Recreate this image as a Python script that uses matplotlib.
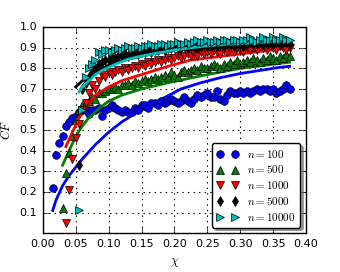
import matplotlib
matplotlib.use("Agg")
import matplotlib.pyplot as plt

plt.style.use("classic")
plt.rcParams["font.size"] = 8
plt.rcParams["mathtext.fontset"] = "cm"

x_100 = [0.015, 0.020, 0.025, 0.030, 0.035, 0.040, 0.045, 0.050, 0.055, 0.060,
         0.065, 0.070, 0.075, 0.080, 0.085, 0.090, 0.095, 0.100, 0.105, 0.110,
         0.115, 0.120, 0.125, 0.130, 0.135, 0.140, 0.145, 0.150, 0.155, 0.160,
         0.165, 0.170, 0.175, 0.180, 0.185, 0.190, 0.195, 0.200, 0.205, 0.210,
         0.215, 0.220, 0.225, 0.230, 0.235, 0.240, 0.245, 0.250, 0.255, 0.260,
         0.265, 0.270, 0.275, 0.280, 0.285, 0.290, 0.295, 0.300, 0.305, 0.310,
         0.315, 0.320, 0.325, 0.330, 0.335, 0.340, 0.345, 0.350, 0.355, 0.360,
         0.365, 0.370, 0.375]
y_100 = [0.22, 0.38, 0.44, 0.47, 0.52, 0.54, 0.56, 0.57, 0.59, 0.60,
         0.60, 0.58, 0.60, 0.60, 0.61, 0.57, 0.60, 0.61, 0.62, 0.61,
         0.60, 0.59, 0.60, 0.59, 0.59, 0.61, 0.60, 0.62, 0.62, 0.61,
         0.63, 0.63, 0.62, 0.64, 0.63, 0.64, 0.65, 0.64, 0.63, 0.64,
         0.66, 0.64, 0.63, 0.65, 0.67, 0.66, 0.67, 0.68, 0.66, 0.66,
         0.69, 0.65, 0.64, 0.67, 0.69, 0.68, 0.68, 0.69, 0.68, 0.69,
         0.68, 0.69, 0.70, 0.69, 0.70, 0.70, 0.69, 0.70, 0.68, 0.69,
         0.70, 0.72, 0.70]

x_500 = [0.030, 0.035, 0.040, 0.045, 0.050, 0.055, 0.060,
         0.065, 0.070, 0.075, 0.080, 0.085, 0.090, 0.095, 0.100, 0.105, 0.110,
         0.115, 0.120, 0.125, 0.130, 0.135, 0.140, 0.145, 0.150, 0.155, 0.160,
         0.165, 0.170, 0.175, 0.180, 0.185, 0.190, 0.195, 0.200, 0.205, 0.210,
         0.215, 0.220, 0.225, 0.230, 0.235, 0.240, 0.245, 0.250, 0.255, 0.260,
         0.265, 0.270, 0.275, 0.280, 0.285, 0.290, 0.295, 0.300, 0.305, 0.310,
         0.315, 0.320, 0.325, 0.330, 0.335, 0.340, 0.345, 0.350, 0.355, 0.360,
         0.365, 0.370, 0.375]
y_500 = [0.12, 0.29, 0.39, 0.47, 0.55, 0.60, 0.62,
         0.63, 0.64, 0.66, 0.65, 0.68, 0.68, 0.69, 0.70, 0.70, 0.71,
         0.70, 0.72, 0.72, 0.73, 0.72, 0.74, 0.73, 0.74, 0.75, 0.74,
         0.75, 0.76, 0.75, 0.76, 0.77, 0.76, 0.78, 0.77, 0.76, 0.78,
         0.79, 0.78, 0.79, 0.80, 0.79, 0.81, 0.80, 0.80, 0.81, 0.82,
         0.81, 0.80, 0.82, 0.81, 0.83, 0.82, 0.84, 0.82, 0.83, 0.84,
         0.83, 0.85, 0.84, 0.83, 0.85, 0.84, 0.86, 0.85, 0.84, 0.86,
         0.85, 0.87, 0.86]

x_1000 = [0.035, 0.040, 0.045, 0.050, 0.055, 0.060,
          0.065, 0.070, 0.075, 0.080, 0.085, 0.090, 0.095, 0.100, 0.105, 0.110,
          0.115, 0.120, 0.125, 0.130, 0.135, 0.140, 0.145, 0.150, 0.155, 0.160,
          0.165, 0.170, 0.175, 0.180, 0.185, 0.190, 0.195, 0.200, 0.205, 0.210,
          0.215, 0.220, 0.225, 0.230, 0.235, 0.240, 0.245, 0.250, 0.255, 0.260,
          0.265, 0.270, 0.275, 0.280, 0.285, 0.290, 0.295, 0.300, 0.305, 0.310,
          0.315, 0.320, 0.325, 0.330, 0.335, 0.340, 0.345, 0.350, 0.355, 0.360,
          0.365, 0.370, 0.375]
y_1000 = [0.05, 0.21, 0.36, 0.46, 0.53, 0.60,
          0.63, 0.68, 0.72, 0.70, 0.74, 0.77, 0.76, 0.78, 0.77, 0.78,
          0.79, 0.78, 0.80, 0.79, 0.80, 0.81, 0.80, 0.82, 0.81, 0.83,
          0.82, 0.83, 0.84, 0.83, 0.84, 0.85, 0.84, 0.85, 0.86, 0.85,
          0.86, 0.87, 0.86, 0.87, 0.86, 0.88, 0.87, 0.88, 0.87, 0.89,
          0.88, 0.87, 0.89, 0.88, 0.89, 0.88, 0.90, 0.89, 0.88, 0.90,
          0.89, 0.90, 0.89, 0.91, 0.90, 0.89, 0.91, 0.90, 0.89, 0.91,
          0.90, 0.89, 0.90]

x_5000 = [0.055, 0.060,
          0.065, 0.070, 0.075, 0.080, 0.085, 0.090, 0.095, 0.100, 0.105, 0.110,
          0.115, 0.120, 0.125, 0.130, 0.135, 0.140, 0.145, 0.150, 0.155, 0.160,
          0.165, 0.170, 0.175, 0.180, 0.185, 0.190, 0.195, 0.200, 0.205, 0.210,
          0.215, 0.220, 0.225, 0.230, 0.235, 0.240, 0.245, 0.250, 0.255, 0.260,
          0.265, 0.270, 0.275, 0.280, 0.285, 0.290, 0.295, 0.300, 0.305, 0.310,
          0.315, 0.320, 0.325, 0.330, 0.335, 0.340, 0.345, 0.350, 0.355, 0.360,
          0.365, 0.370, 0.375]
y_5000 = [0.33, 0.70,
          0.73, 0.76, 0.78, 0.80, 0.82, 0.83, 0.84, 0.84, 0.85, 0.85,
          0.86, 0.86, 0.87, 0.86, 0.87, 0.88, 0.87, 0.88, 0.88, 0.89,
          0.88, 0.89, 0.89, 0.90, 0.89, 0.90, 0.90, 0.91, 0.90, 0.90,
          0.91, 0.90, 0.91, 0.91, 0.90, 0.91, 0.92, 0.91, 0.91, 0.92,
          0.91, 0.92, 0.91, 0.92, 0.92, 0.91, 0.92, 0.92, 0.91, 0.92,
          0.93, 0.92, 0.92, 0.93, 0.92, 0.92, 0.93, 0.92, 0.93, 0.92,
          0.93, 0.93, 0.92]

x_10000 = [0.055, 0.060,
           0.065, 0.070, 0.075, 0.080, 0.085, 0.090, 0.095, 0.100, 0.105, 0.110,
           0.115, 0.120, 0.125, 0.130, 0.135, 0.140, 0.145, 0.150, 0.155, 0.160,
           0.165, 0.170, 0.175, 0.180, 0.185, 0.190, 0.195, 0.200, 0.205, 0.210,
           0.215, 0.220, 0.225, 0.230, 0.235, 0.240, 0.245, 0.250, 0.255, 0.260,
           0.265, 0.270, 0.275, 0.280, 0.285, 0.290, 0.295, 0.300, 0.305, 0.310,
           0.315, 0.320, 0.325, 0.330, 0.335, 0.340, 0.345, 0.350, 0.355, 0.360,
           0.365, 0.370, 0.375]
y_10000 = [0.11, 0.60,
           0.76, 0.80, 0.82, 0.84, 0.88, 0.87, 0.89, 0.89, 0.88, 0.89,
           0.90, 0.89, 0.90, 0.91, 0.90, 0.90, 0.91, 0.90, 0.91, 0.91,
           0.92, 0.91, 0.91, 0.92, 0.92, 0.91, 0.92, 0.92, 0.93, 0.92,
           0.92, 0.93, 0.92, 0.93, 0.94, 0.93, 0.93, 0.94, 0.93, 0.93,
           0.94, 0.93, 0.94, 0.94, 0.93, 0.94, 0.94, 0.93, 0.94, 0.94,
           0.95, 0.94, 0.93, 0.94, 0.95, 0.94, 0.94, 0.95, 0.94, 0.94,
           0.95, 0.94, 0.94]

fx_100 = [0.015, 0.02, 0.03, 0.04, 0.05, 0.06, 0.08, 0.10, 0.12, 0.15, 0.18,
          0.21, 0.24, 0.27, 0.30, 0.33, 0.36, 0.375]
fy_100 = [0.11, 0.16, 0.23, 0.28, 0.32, 0.36, 0.43, 0.49, 0.54, 0.60, 0.65,
          0.70, 0.73, 0.755, 0.775, 0.79, 0.805, 0.81]
fx_500 = [0.03, 0.04, 0.05, 0.06, 0.07, 0.087, 0.10, 0.12, 0.15, 0.19, 0.25,
          0.30, 0.375]
fy_500 = [0.33, 0.40, 0.47, 0.52, 0.56, 0.61, 0.64, 0.67, 0.70, 0.73, 0.77,
          0.80, 0.83]
fx_1000 = [0.035, 0.045, 0.055, 0.065, 0.08, 0.10, 0.12, 0.15, 0.19, 0.224,
           0.30, 0.375]
fy_1000 = [0.42, 0.49, 0.56, 0.61, 0.67, 0.71, 0.74, 0.77, 0.81, 0.84,
           0.87, 0.90]
fx_5000 = [0.05, 0.06, 0.07, 0.08, 0.09, 0.11, 0.13, 0.15, 0.2, 0.25, 0.3, 0.375]
fy_5000 = [0.71, 0.74, 0.76, 0.78, 0.80, 0.83, 0.845, 0.86, 0.89, 0.91, 0.92, 0.935]
fx_10000 = [0.055, 0.06, 0.07, 0.08, 0.09, 0.11, 0.13, 0.15, 0.2, 0.25, 0.3, 0.375]
fy_10000 = [0.685, 0.71, 0.74, 0.77, 0.79, 0.82, 0.845, 0.86, 0.89, 0.91, 0.92, 0.935]

labels = ["$n=100$", "$n=500$", "$n=1000$", "$n=5000$", "$n=10000$"]

fig = plt.figure(figsize=(3.4, 2.72), dpi=100, facecolor="white")
ax = fig.add_axes([0.126, 0.143, 0.774, 0.757])
ax.set_facecolor("white")

series = [
    (x_100, y_100, fx_100, fy_100, "o", "b"),
    (x_500, y_500, fx_500, fy_500, "^", "g"),
    (x_1000, y_1000, fx_1000, fy_1000, "v", "r"),
    (x_5000, y_5000, fx_5000, fy_5000, "d", "k"),
    (x_10000, y_10000, fx_10000, fy_10000, ">", "c"),
]
for i, ((xs, ys, fxs, fys, m, c), lab) in enumerate(zip(series, labels)):
    ax.plot(xs, ys, linestyle="none", marker=m, color=c, markersize=5.5,
            markeredgecolor="k", markeredgewidth=0.5, label=lab, zorder=3 + i)
    ax.plot(fxs, fys, "-", color=c, linewidth=2, zorder=2.5 + i)

ax.set_xlim(0, 0.4)
ax.set_ylim(0, 1.0)
ax.set_xticks([0.0, 0.05, 0.1, 0.15, 0.2, 0.25, 0.3, 0.35, 0.4])
ax.set_yticks([0.1, 0.2, 0.3, 0.4, 0.5, 0.6, 0.7, 0.8, 0.9, 1.0])
ax.set_xticklabels(["0.00", "0.05", "0.10", "0.15", "0.20", "0.25", "0.30", "0.35", "0.40"])
ax.grid(True, color="k", linestyle=":", linewidth=0.8)
ax.set_axisbelow(True)
ax.tick_params(labelsize=8, direction="in", length=4)
ax.set_xlabel(r"$\chi$", fontsize=9)
ax.set_ylabel(r"$CF$", fontsize=9)

leg = ax.legend(loc="lower right", numpoints=2, fancybox=True, shadow=True,
                fontsize=8, borderaxespad=0.5, handlelength=2.0,
                labelspacing=0.35, framealpha=1)
leg.set_zorder(20)

fig.savefig("out.png", dpi=100, facecolor="white")
